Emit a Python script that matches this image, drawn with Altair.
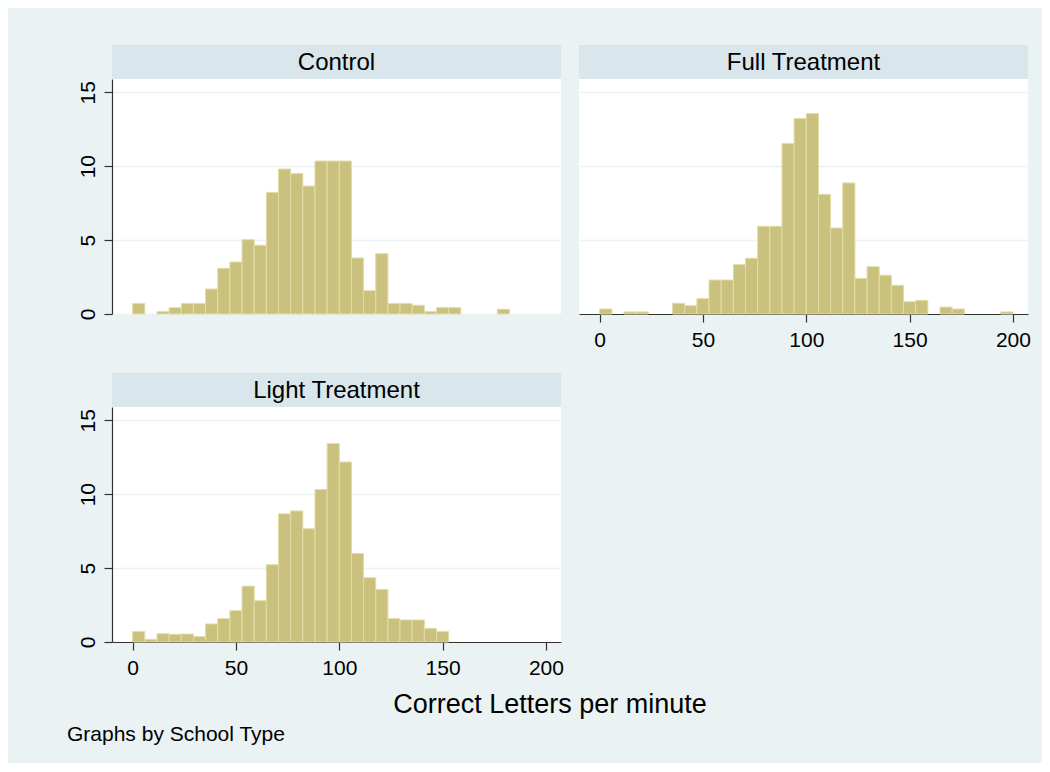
import altair as alt
import pandas as pd

# ---------------- data (percent per bin, 34 bins of width 200/34 starting at 0) ----------------
PANELS = ["Control", "Full Treatment", "Light Treatment"]
BIN_START = 0.0
BIN_COUNT = 34
BIN_WIDTH = 200.0 / BIN_COUNT

control_pct = [0.70, 0, 0.16, 0.43, 0.70, 0.70, 1.69, 3.09, 3.52, 5.03, 4.65, 8.23,
               9.81, 9.50, 8.66, 10.35, 10.35, 10.35, 3.79, 1.58, 4.08, 0.70, 0.70,
               0.59, 0.16, 0.43, 0.43, 0, 0, 0, 0.32, 0, 0, 0]
full_pct = [0.34, 0, 0.14, 0.14, 0, 0, 0.72, 0.56, 1.04, 2.30, 2.30, 3.34, 3.77,
            5.93, 5.93, 11.53, 13.22, 13.56, 8.10, 5.82, 8.87, 2.41, 3.20, 2.62,
            1.94, 0.83, 0.92, 0, 0.47, 0.34, 0, 0, 0, 0.14]
light_pct = [0.70, 0.18, 0.56, 0.52, 0.54, 0.36, 1.22, 1.58, 2.12, 3.78, 2.79, 5.23,
             8.67, 8.87, 7.66, 10.32, 13.42, 12.18, 5.99, 4.35, 3.56, 1.58, 1.49,
             1.49, 0.92, 0.70, 0, 0, 0, 0, 0, 0, 0, 0]

X_TICKS = [0, 50, 100, 150, 200]
Y_TICKS = [0, 5, 10, 15]
X_TITLE = "Correct Letters per minute"
NOTE = "Graphs by School Type"

# ---------------- style ----------------
FONT = "Liberation Sans, Arial, Helvetica, sans-serif"
BG = "#EAF2F3"
HEADER = "#D9E6EB"
GRID = "#EAF2F3"
BAR = "#C9C17D"
EDGE = "#E2DDA6"
AXIS = "#333333"
PW, PH, HH = 449, 235, 34


def hist_df(vals):
    rows = []
    for k, v in enumerate(vals):
        if v > 0:
            rows.append({"start": BIN_START + k * BIN_WIDTH,
                         "end": BIN_START + (k + 1) * BIN_WIDTH,
                         "pct": v, "base": 0})
    return pd.DataFrame(rows)


def panel(name, vals, show_y, show_x, footer=False):
    lab = alt.Chart(pd.DataFrame({"label": [name]}))
    strip = lab.mark_rect(fill=HEADER, strokeWidth=0).encode(
        x=alt.value(0), x2=alt.value(PW), y=alt.value(-HH), y2=alt.value(0))
    strip_text = lab.mark_text(
        font=FONT, fontSize=24, color="black", align="center", baseline="middle"
    ).encode(text="label:N", x=alt.value(PW / 2), y=alt.value(-HH / 2 + 1))

    if show_x:
        x_axis = alt.Axis(values=X_TICKS, grid=False, title=None, tickSize=8,
                          labelPadding=7, labelFontSize=21, labelFlush=False,
                          domainColor=AXIS, tickColor=AXIS, domainWidth=1.2,
                          tickWidth=1.2, labelColor="black", labelFont=FONT)
    else:
        x_axis = None
    if show_y:
        y_axis = alt.Axis(values=Y_TICKS, grid=True, gridColor=GRID, gridWidth=1.5,
                          title=None, tickSize=8, labelPadding=6, labelAngle=270,
                          labelAlign="center", labelBaseline="bottom",
                          labelFontSize=21, labelFlush=False, domainColor=AXIS,
                          tickColor=AXIS, domainWidth=1.2, tickWidth=1.2,
                          labelColor="black", labelFont=FONT)
    else:
        y_axis = alt.Axis(values=Y_TICKS, grid=True, gridColor=GRID, gridWidth=1.5,
                          title=None, labels=False, ticks=False, domain=False)

    bars = alt.Chart(hist_df(vals)).mark_rect(
        fill=BAR, stroke=EDGE, strokeWidth=1
    ).encode(
        x=alt.X("start:Q", scale=alt.Scale(domain=[-10, 207.3], nice=False, zero=False),
                axis=x_axis),
        x2="end:Q",
        y=alt.Y("pct:Q", scale=alt.Scale(domain=[0, 15.9], nice=False), axis=y_axis),
        y2="base:Q",
    )
    layers = [bars, strip, strip_text]
    if footer:
        title_txt = alt.Chart(pd.DataFrame({"t": [X_TITLE]})).mark_text(
            font=FONT, fontSize=27, color="black", align="center", baseline="middle"
        ).encode(text="t:N", x=alt.value(438), y=alt.value(298))
        note_txt = alt.Chart(pd.DataFrame({"t": [NOTE]})).mark_text(
            font=FONT, fontSize=21, color="black", align="left", baseline="middle"
        ).encode(text="t:N", x=alt.value(-45), y=alt.value(328))
        layers += [title_txt, note_txt]
    return alt.layer(*layers).properties(
        width=PW, height=PH, view=alt.ViewBackground(fill="white", strokeWidth=0))


ctrl = panel(PANELS[0], control_pct, True, False)
full = panel(PANELS[1], full_pct, False, True)
light = panel(PANELS[2], light_pct, True, True, footer=True)

chart = alt.concat(ctrl, full, light, columns=2, bounds="flush",
                   spacing={"row": 93, "column": 18}).properties(
    padding={"left": 59, "top": 37, "right": 11, "bottom": 18}
).configure(background=BG, font=FONT).configure_view(strokeWidth=0)

chart.save("out.html", embed_options={"renderer": "svg", "actions": False})
